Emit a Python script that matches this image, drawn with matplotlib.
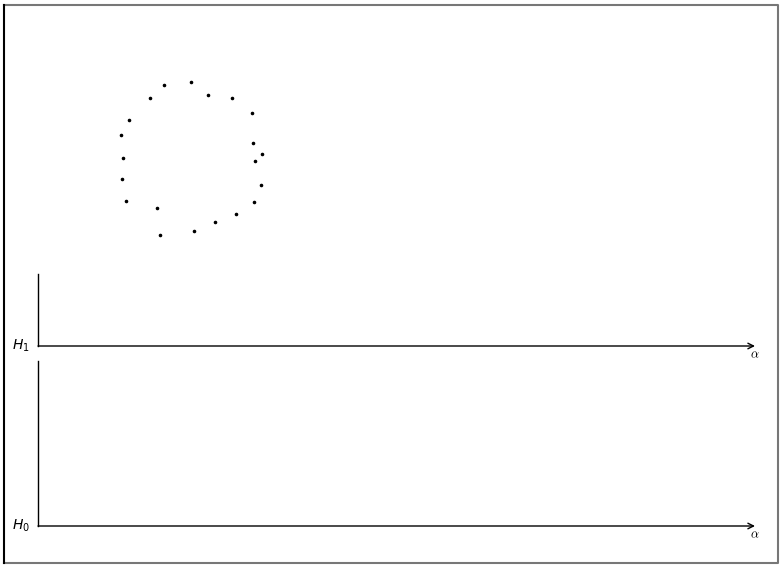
import matplotlib.pyplot as plt
import numpy as np

# dot cloud, in picture pixels (x right, y down)
dot_x = [191, 164, 150, 208, 232, 252, 129, 121, 253, 262, 255, 123, 122,
         261, 126, 254, 157, 236, 215, 194, 160]
dot_y = [82, 85, 98, 95, 98, 113, 120, 135, 143, 154, 161, 158, 179,
         185, 201, 202, 208, 214, 222, 231, 235]

axis_labels = ["$H_1$", "$H_0$"]
axis_x0 = 38
axis_x1 = 755
axis_top = [274, 361]
axis_base = [346, 526]

fig = plt.figure(figsize=(7.83, 5.67), dpi=100)
ax = fig.add_axes([0, 0, 1, 1])
ax.set_xlim(0, 783)
ax.set_ylim(567, 0)
ax.axis("off")

# frame
ax.plot([4, 778, 778, 4], [5, 5, 563, 563], color="#777777", lw=1.5)
ax.plot([4, 4], [5, 563], color="black", lw=1.5)

ax.scatter(dot_x, dot_y, s=2.5, color="black")

for lab, top, base in zip(axis_labels, axis_top, axis_base):
    ax.plot([axis_x0, axis_x0], [top, base], color="black", lw=1)
    ax.annotate("", xy=(axis_x1, base), xytext=(axis_x0, base),
                arrowprops=dict(arrowstyle="->", lw=1, color="black",
                                shrinkA=0, shrinkB=0))
    ax.text(axis_x0 - 8, base, lab, ha="right", va="center", fontsize=10)
    ax.text(axis_x1, base + 9, r"$\alpha$", ha="center", va="center",
            fontsize=9, math_fontfamily="cm")

fig.savefig("out.png", dpi=100)
